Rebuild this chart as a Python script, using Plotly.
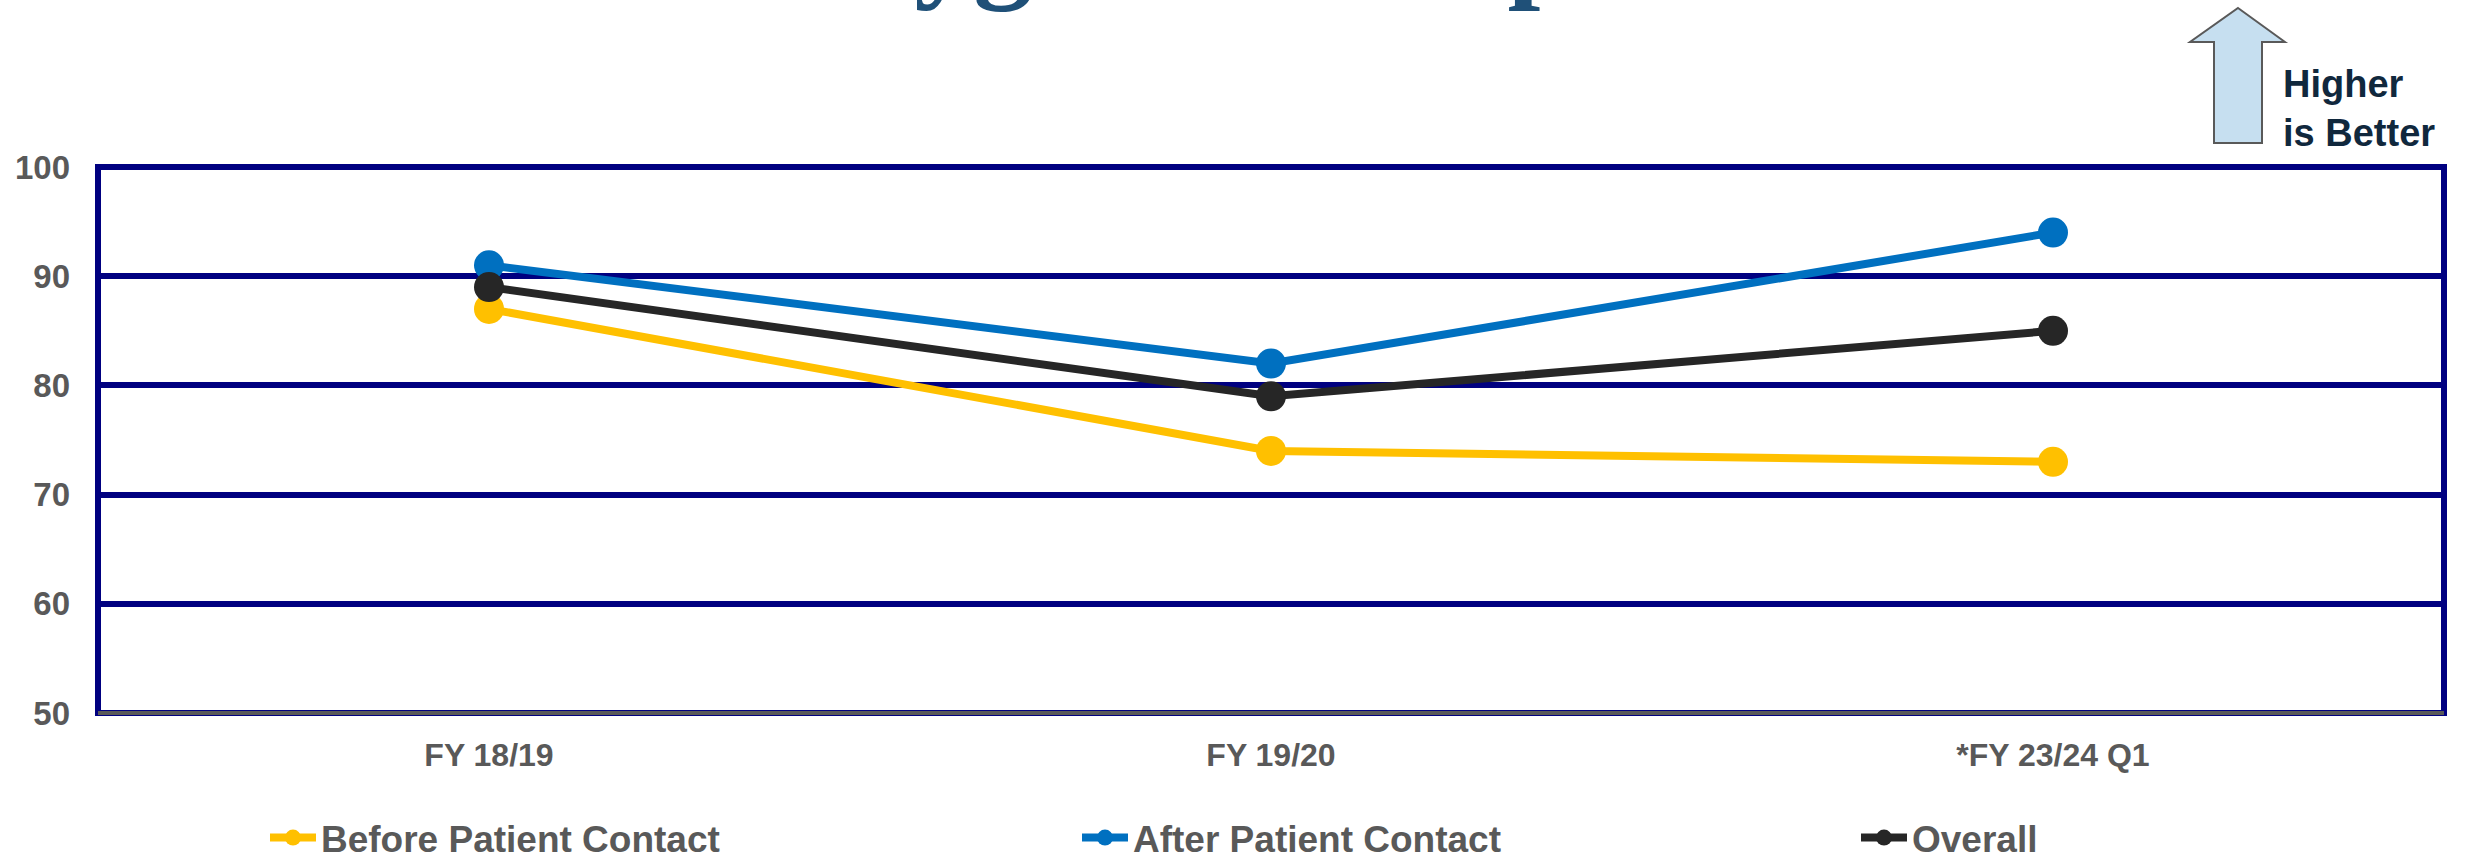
import plotly.graph_objects as go

# ---- data ----
categories = ["FY 18/19", "FY 19/20", "*FY 23/24 Q1"]
before_contact = [87, 74, 73]
after_contact = [91, 82, 94]
overall = [89, 79, 85]
y_ticks = [50, 60, 70, 80, 90, 100]

series_names = ["Before Patient Contact", "After Patient Contact", "Overall"]
series_colors = ["#FFC000", "#0070C0", "#262626"]

W, H = 2470, 866
L, R, T, B = 98, 26, 167, 153
PW, PH = W - L - R, H - T - B


def px(x):
    return (x - L) / PW


def py(y):
    return (H - B - y) / PH


SANS = "Liberation Sans, Arial, sans-serif"
GRAY = "#595959"
NAVY = "#000080"

fig = go.Figure()
for name, vals, col, lg in zip(series_names, [before_contact, after_contact, overall],
                               series_colors, ["legend", "legend2", "legend3"]):
    fig.add_trace(go.Scatter(
        x=categories, y=vals, name=name, mode="lines+markers",
        line=dict(color=col, width=8),
        marker=dict(color=col, size=30),
        legend=lg,
    ))

legend_common = dict(
    orientation="h", yanchor="middle", y=py(838), xanchor="left",
    font=dict(family=SANS, size=37, color=GRAY, weight="bold"),
    bgcolor="rgba(0,0,0,0)", itemwidth=46,
)

fig.update_layout(
    template="none",
    width=W, height=H, autosize=False,
    margin=dict(l=L, r=R, t=T, b=B, pad=0, autoexpand=False),
    paper_bgcolor="white", plot_bgcolor="white",
    showlegend=True,
    legend=dict(x=px(265), **legend_common),
    legend2=dict(x=px(1077), **legend_common),
    legend3=dict(x=px(1856), **legend_common),
    xaxis=dict(
        type="category", range=[-0.5, 2.5], showgrid=False, zeroline=False,
        showline=False, ticks="", ticklabelstandoff=20, automargin=False,
        tickfont=dict(family=SANS, size=32, color=GRAY, weight="bold"),
        fixedrange=True,
    ),
    yaxis=dict(
        range=[50, 100], tickvals=y_ticks, showgrid=True, gridcolor=NAVY, gridwidth=6,
        zeroline=False, showline=False, ticks="", ticklabelstandoff=27, automargin=False,
        tickfont=dict(family=SANS, size=33, color=GRAY, weight="bold"),
        fixedrange=True,
    ),
    shapes=[
        dict(type="rect", xref="paper", yref="paper", x0=0, x1=1, y0=0, y1=1,
             line=dict(color=NAVY, width=6), layer="above"),
        dict(type="line", xref="paper", yref="paper", x0=0, x1=1, y0=0, y1=0,
             line=dict(color=GRAY, width=4), layer="above"),
        # "higher is better" block arrow
        dict(type="path", xref="paper", yref="paper",
             path=(f"M{px(2238)},{py(8)} L{px(2285)},{py(42)} L{px(2262)},{py(42)} "
                   f"L{px(2262)},{py(143)} L{px(2214)},{py(143)} L{px(2214)},{py(42)} "
                   f"L{px(2190)},{py(42)} Z"),
             fillcolor="#C6DFF0", line=dict(color=GRAY, width=2), layer="above"),
    ],
    annotations=[
        dict(text="Hand Hygiene Compliance", xref="paper", yref="paper",
             x=px(509), y=py(14), xanchor="left", yanchor="bottom", showarrow=False,
             font=dict(family="Liberation Serif, Times New Roman, serif", size=118,
                       color="#1F5078", weight="bold")),
        dict(text="Higher<br>is Better", xref="paper", yref="paper",
             x=px(2281), y=py(109), xanchor="left", yanchor="middle", align="left",
             showarrow=False,
             font=dict(family=SANS, size=38, color="#10283D", weight="bold")),
    ],
)

fig.write_html(
    "out.html",
    config={"displayModeBar": False, "staticPlot": True},
    post_script="document.body.style.margin='0';document.body.style.overflow='hidden';",
)
